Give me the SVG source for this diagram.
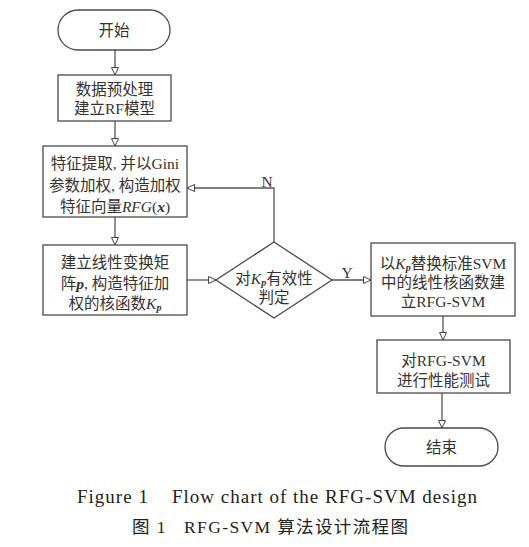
<svg xmlns="http://www.w3.org/2000/svg" width="529" height="547" viewBox="0 0 529 547">
<style>
.shape{fill:#fff;stroke:#4a4a4a;stroke-width:1.3}
.conn{fill:none;stroke:#555;stroke-width:1.3}
.t{font-family:"Liberation Serif","Noto Sans CJK SC",serif;font-size:15.5px;fill:#333;text-anchor:middle;dominant-baseline:central}
.cap{font-family:"Liberation Serif","Noto Sans CJK SC",serif;font-size:17.5px;fill:#222;text-anchor:middle;dominant-baseline:central}
.cap1{font-size:19px}
.i{font-style:italic}
.bi{font-style:italic;font-weight:bold}
.sub{font-size:10px;font-style:italic;font-weight:bold}
</style>
<defs>
<marker id="ah" markerWidth="10" markerHeight="10" refX="8.5" refY="4" orient="auto" markerUnits="userSpaceOnUse">
<path d="M1,0.5 L8.5,4 L1,7.5 Z" fill="#fff" stroke="#444" stroke-width="1"/>
</marker>
</defs>
<rect width="529" height="547" fill="#fff"/>
<g id="connectors">
<line class="conn" x1="115" y1="50" x2="115" y2="75" marker-end="url(#ah)"/>
<line class="conn" x1="115" y1="121" x2="115" y2="146" marker-end="url(#ah)"/>
<line class="conn" x1="115" y1="217" x2="115" y2="245" marker-end="url(#ah)"/>
<line class="conn" x1="187" y1="280" x2="216" y2="280" marker-end="url(#ah)"/>
<polyline class="conn" points="274,242 274,188 187,188" marker-end="url(#ah)"/>
<text class="t" x="267" y="181">N</text>
<line class="conn" x1="332" y1="280" x2="371" y2="280" marker-end="url(#ah)"/>
<text class="t" x="347" y="272">Y</text>
<line class="conn" x1="443" y1="316" x2="443" y2="340" marker-end="url(#ah)"/>
<line class="conn" x1="442" y1="393" x2="442" y2="428" marker-end="url(#ah)"/>
</g>
<g id="start">
<rect class="shape" x="58" y="10" width="112" height="40" rx="20"/>
<text class="t" x="114" y="30">开始</text>
</g>
<g id="preprocess">
<rect class="shape" x="58" y="75" width="113" height="46"/>
<text class="t" x="114.5" y="89">数据预处理</text>
<text class="t" x="114.5" y="108">建立RF模型</text>
</g>
<g id="feature">
<rect class="shape" x="43" y="146" width="144" height="71"/>
<text class="t" x="115" y="163">特征提取, 并以Gini</text>
<text class="t" x="115" y="185">参数加权, 构造加权</text>
<text class="t" x="115" y="206">特征向量<tspan class="i">RFG</tspan>(<tspan class="bi">x</tspan>)</text>
</g>
<g id="kernel">
<rect class="shape" x="43" y="245" width="144" height="70"/>
<text class="t" x="115" y="262">建立线性变换矩</text>
<text class="t" x="115" y="283">阵<tspan class="bi">p</tspan>, 构造特征加</text>
<text class="t" x="115" y="303">权的核函数<tspan class="i">K</tspan><tspan class="sub" dy="4">p</tspan></text>
</g>
<g id="decision">
<polygon class="shape" points="274,242 332,280 274,318 216,280"/>
<text class="t" x="274" y="278">对<tspan class="i">K</tspan><tspan class="sub" dy="4">p</tspan><tspan dy="-4">有效性</tspan></text>
<text class="t" x="274" y="297">判定</text>
</g>
<g id="build">
<rect class="shape" x="371" y="243" width="144" height="73"/>
<text class="t" x="443" y="263">以<tspan class="i">K</tspan><tspan class="sub" dy="4">p</tspan><tspan dy="-4">替换标准SVM</tspan></text>
<text class="t" x="443" y="282">中的线性核函数建</text>
<text class="t" x="443" y="301">立RFG-SVM</text>
</g>
<g id="test">
<rect class="shape" x="377" y="340" width="133" height="53"/>
<text class="t" x="443.5" y="360">对RFG-SVM</text>
<text class="t" x="443.5" y="380">进行性能测试</text>
</g>
<g id="end">
<rect class="shape" x="385" y="428" width="113" height="38" rx="19"/>
<text class="t" x="441.5" y="447">结束</text>
</g>
<text class="cap cap1" x="277" y="496" textLength="400" lengthAdjust="spacing" xml:space="preserve">Figure 1    Flow chart of the RFG-SVM design</text>
<text class="cap" x="270" y="527" textLength="276" lengthAdjust="spacing" xml:space="preserve">图 1   RFG-SVM 算法设计流程图</text>
</svg>
